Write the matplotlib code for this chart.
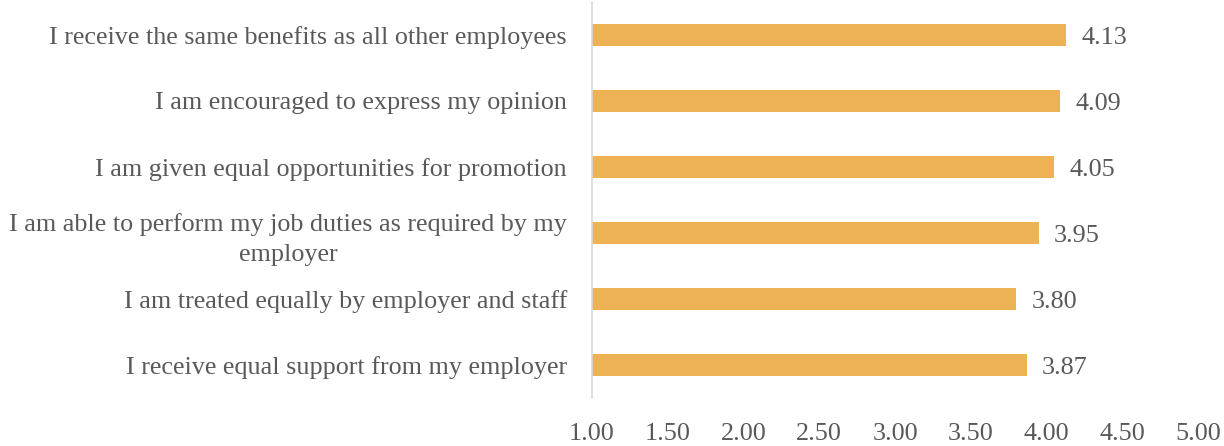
import matplotlib.pyplot as plt

labels = [
    'I receive the same benefits as all other employees',
    'I am encouraged to express my opinion',
    'I am given equal opportunities for promotion',
    'I am able to perform my job duties as required by my\nemployer',
    'I am treated equally by employer and staff',
    'I receive equal support from my employer',
]
scores = [4.13, 4.09, 4.05, 3.95, 3.80, 3.87]
xticks = [1.0, 1.5, 2.0, 2.5, 3.0, 3.5, 4.0, 4.5, 5.0]

plt.rcParams['font.family'] = ['Liberation Serif', 'DejaVu Serif']
grey = '#595959'
fs = 18.8

fig = plt.figure(figsize=(12.24, 4.46), dpi=100)
ax = fig.add_axes([592 / 1224, 1 - 398 / 446, 606 / 1224, 396 / 446])

pos = list(range(len(labels)))[::-1]
ax.barh(pos, [s - 1 for s in scores], left=1, height=0.34, color='#EDB253')
for p, s in zip(pos, scores):
    ax.text(s + 0.1, p, '%.2f' % s, va='center_baseline', ha='left', fontsize=fs, color=grey)

ax.set_xlim(1, 5)
ax.set_ylim(-0.5, len(labels) - 0.5)
ax.set_xticks(xticks)
ax.set_xticklabels(['%.2f' % t for t in xticks], fontsize=fs, color=grey)
ax.set_yticks(pos)
ax.set_yticklabels(labels, fontsize=fs, color=grey, multialignment='center', linespacing=1.45)
ax.tick_params(axis='x', length=0, pad=18)
ax.tick_params(axis='y', length=0, pad=18)
for side in ['top', 'right', 'bottom']:
    ax.spines[side].set_visible(False)
ax.spines['left'].set_color('#D9D9D9')
ax.spines['left'].set_linewidth(1.2)

fig.savefig('out.png', dpi=100)
